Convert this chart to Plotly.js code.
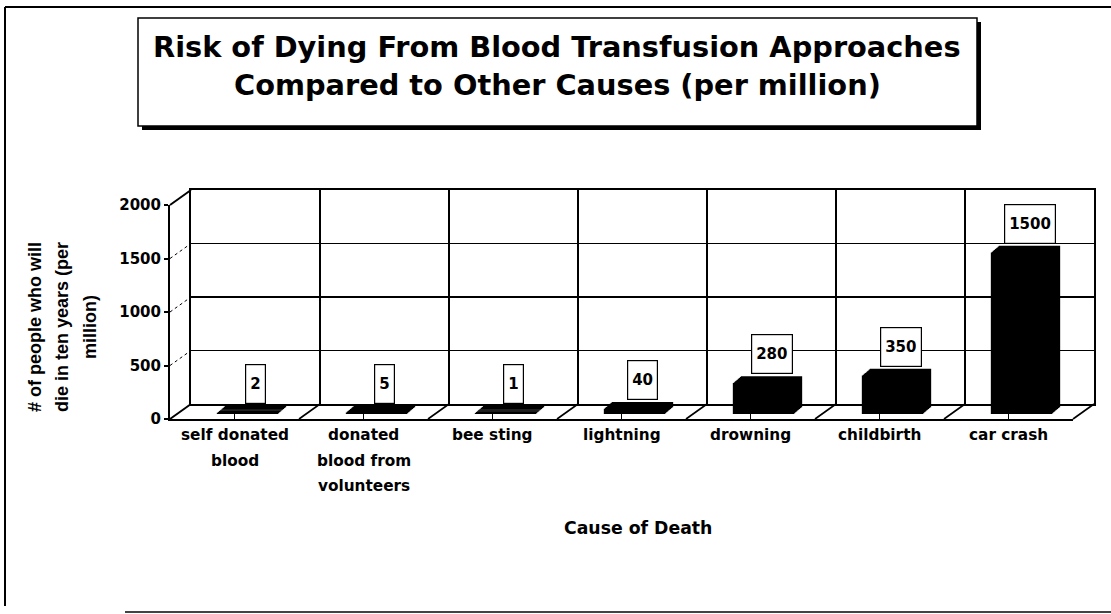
<!DOCTYPE html>
<html>
<head>
<meta charset="utf-8">
<script src="https://cdn.plot.ly/plotly-3.0.1.min.js"></script>
<style>html,body{margin:0;padding:0;background:#fff;}#chart{width:1111px;height:614px;}</style>
</head>
<body>
<div id="chart"></div>
<script>
// ---- data ----
const categories = ['self donated blood', 'donated blood from volunteers', 'bee sting', 'lightning', 'drowning', 'childbirth', 'car crash'];
const labelLines = [['self donated', 'blood'], ['donated', 'blood from', 'volunteers'], ['bee sting'], ['lightning'], ['drowning'], ['childbirth'], ['car crash']];
const deaths = [2, 5, 1, 40, 280, 350, 1500];
const yTicks = [0, 500, 1000, 1500, 2000];
const titleLines = ['Risk of Dying From Blood Transfusion Approaches', 'Compared to Other Causes (per million)'];
const yTitleLines = ['# of people who will', 'die in ten years (per', 'million)'];
const xTitle = 'Cause of Death';

// ---- geometry (pixels) ----
const W = 1111, H = 614;
const fx = p => p / W;
const fy = p => (H - p) / H;
const back = {l: 191, r: 1094, t: 190, b: 404};
const front = {l: 170, r: 1073, t: 205, b: 419};
const barPlane = {l: 183, r: 1086, t: 200, b: 414};
const depthCount = 9;
const stepDx = 1, stepDy = -0.85;
const n = categories.length;
const xr = [-0.5, n - 0.5];
const yr = [0, 2000];
const idx = categories.map((c, i) => i);

const fontBold = (size, fam) => ({family: fam || 'DejaVu Sans', size: size, color: '#000', weight: 'bold'});

const layout = {
  width: W, height: H,
  margin: {l: 0, r: 0, t: 0, b: 0},
  paper_bgcolor: '#fff',
  plot_bgcolor: 'rgba(0,0,0,0)',
  showlegend: false,
  bargap: 0,
  xaxis: {domain: [fx(back.l), fx(back.r)], range: xr, anchor: 'y', tickvals: idx.slice(0, n - 1).map(i => i + 0.5),
          showgrid: true, gridcolor: '#000', gridwidth: 1.5, showticklabels: false, ticks: '', zeroline: false,
          showline: true, mirror: true, linecolor: '#000', linewidth: 2, fixedrange: true},
  yaxis: {domain: [fy(back.b), fy(back.t)], range: yr, anchor: 'x', tickvals: yTicks,
          showgrid: true, gridcolor: '#000', gridwidth: 1.2, showticklabels: false, ticks: '', zeroline: false,
          showline: true, mirror: true, linecolor: '#000', linewidth: 2, fixedrange: true},
  xaxis3: {domain: [fx(front.l), fx(front.r)], range: xr, anchor: 'y3', tickvals: idx, ticks: 'inside', ticklen: 5,
           tickcolor: '#000', showticklabels: false, showgrid: false, zeroline: false, showline: true,
           linecolor: '#000', linewidth: 2, fixedrange: true},
  yaxis3: {domain: [fy(front.b), fy(front.t)], range: yr, anchor: 'x3', tickvals: yTicks, ticks: 'outside', ticklen: 4,
           tickcolor: '#000', tickwidth: 2, showgrid: false, zeroline: false, showline: true, linecolor: '#000', linewidth: 2,
           tickfont: fontBold(15), fixedrange: true},
  shapes: [],
  annotations: []
};

// invisible helper traces so the back-wall and front-axis subplots exist
const traces = [{type: 'scatter', x: idx, y: deaths, mode: 'none', xaxis: 'x', yaxis: 'y', hoverinfo: 'skip'},
                {type: 'scatter', x: idx, y: deaths, mode: 'none', xaxis: 'x3', yaxis: 'y3', hoverinfo: 'skip'}];

// bar depth copies: each on its own hidden axis pair, shifted by a pixel
let lastAx = 4;
for (let k = 0; k < depthCount; k++) {
  const ax = 4 + k;
  lastAx = ax;
  const dx = k * stepDx, dy = k * stepDy;
  layout['xaxis' + ax] = {domain: [fx(barPlane.l + dx), fx(barPlane.r + dx)], range: xr, anchor: 'y' + ax, visible: false, fixedrange: true};
  layout['yaxis' + ax] = {domain: [fy(barPlane.b + dy), fy(barPlane.t + dy)], range: yr, anchor: 'x' + ax, visible: false, fixedrange: true};
  traces.push({
    type: 'bar', x: idx, y: deaths, width: 0.46,
    xaxis: 'x' + ax, yaxis: 'y' + ax,
    marker: {color: '#000', line: {color: '#000', width: 2}},
    hoverinfo: 'skip', text: categories, textposition: 'none'
  });
}

// value labels
deaths.forEach((v, i) => {
  layout.annotations.push({
    xref: 'x' + lastAx, yref: 'y' + lastAx, x: i, y: v, yanchor: 'bottom', xanchor: 'center', yshift: 3,
    text: String(v), showarrow: false, font: fontBold(15), bgcolor: '#fff', bordercolor: '#000',
    borderwidth: 1.2, borderpad: 4, height: 30
  });
});

// category labels (multi-line, wide spacing)
const lineY = [435, 461, 486];
labelLines.forEach((lines, i) => {
  lines.forEach((t, j) => {
    layout.annotations.push({
      xref: 'x3', yref: 'paper', x: i, y: fy(lineY[j]), yanchor: 'middle', xanchor: 'center',
      text: t, showarrow: false, font: fontBold(15.3)
    });
  });
});

// axis titles
const yTitleX = [35, 62, 90];
yTitleLines.forEach((t, j) => {
  layout.annotations.push({xref: 'paper', yref: 'paper', x: fx(yTitleX[j]), y: fy(327), xanchor: 'center', yanchor: 'middle',
    text: t, textangle: -90, showarrow: false, font: fontBold(18, 'Liberation Sans')});
});
layout.annotations.push({xref: 'paper', yref: 'paper', x: fx(638), y: fy(528), xanchor: 'center', yanchor: 'middle',
  text: xTitle, showarrow: false, font: fontBold(17.3)});

// title lines
const titleY = [47, 85];
titleLines.forEach((t, j) => {
  layout.annotations.push({xref: 'paper', yref: 'paper', x: fx(557), y: fy(titleY[j]), xanchor: 'center', yanchor: 'middle',
    text: t, showarrow: false, font: fontBold(28.8)});
});

// ---- decorative 3D frame ----
const line = (x0, y0, x1, y1, w, dash, col) => ({type: 'line', xref: 'paper', yref: 'paper',
  x0: fx(x0), y0: fy(y0), x1: fx(x1), y1: fy(y1), line: {color: col || '#000', width: w, dash: dash || 'solid'}, layer: 'above'});
yTicks.forEach(v => {
  const yf = front.b - v / 2000 * (front.b - front.t);
  const yb = back.b - v / 2000 * (back.b - back.t);
  const solid = (v === 0 || v === 2000);
  layout.shapes.push(line(front.l, yf, back.l, yb, solid ? 2 : 1, solid ? 'solid' : 'dot'));
});
const cw = (back.r - back.l) / n;
for (let k = 1; k <= n; k++) {
  layout.shapes.push(line(front.l + k * cw, front.b, back.l + k * cw, back.b, 1.6));
}
// outer frame
layout.shapes.push(line(5, 7, 5, 606, 2));
layout.shapes.push(line(5, 7, 1111, 7, 2));
layout.shapes.push(line(125, 612, 1111, 612, 2, 'solid', '#444'));
// title box with shadow
layout.shapes.push({type: 'rect', xref: 'paper', yref: 'paper', x0: fx(142), y0: fy(130), x1: fx(981), y1: fy(22),
  fillcolor: '#000', line: {width: 0}, layer: 'below'});
layout.shapes.push({type: 'rect', xref: 'paper', yref: 'paper', x0: fx(138), y0: fy(126), x1: fx(977), y1: fy(18),
  fillcolor: '#fff', line: {color: '#000', width: 1.5}, layer: 'below'});

Plotly.newPlot('chart', traces, layout, {displayModeBar: false, staticPlot: true});
</script>
</body>
</html>
